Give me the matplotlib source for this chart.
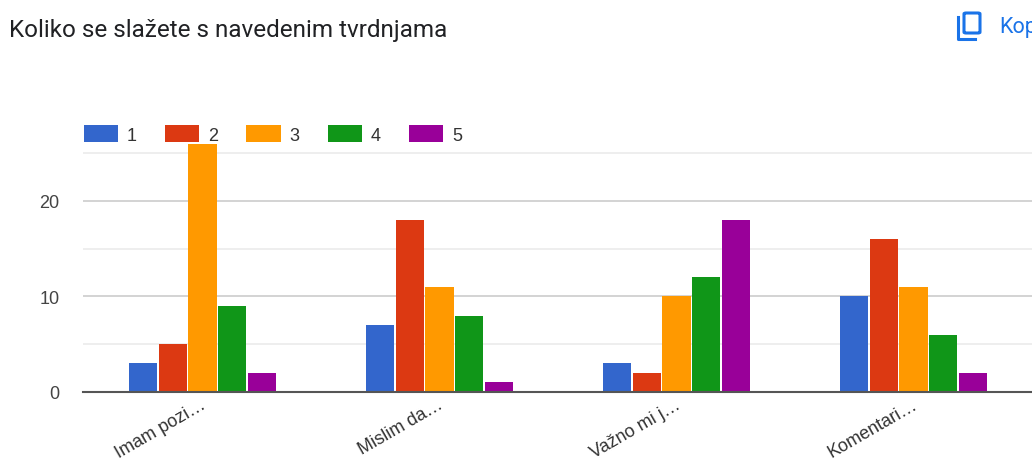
import matplotlib
matplotlib.use("Agg")
import matplotlib.pyplot as plt
from matplotlib.patches import FancyBboxPatch
from matplotlib.lines import Line2D
from matplotlib.transforms import ScaledTranslation
import numpy as np

W, H = 1032, 460

kategorije = ["Imam pozi…", "Mislim da…", "Važno mi j…", "Komentari…"]
serije = ["1", "2", "3", "4", "5"]
v1 = [3, 7, 3, 10]
v2 = [5, 18, 2, 16]
v3 = [26, 11, 10, 11]
v4 = [9, 8, 12, 6]
v5 = [2, 1, 18, 2]
vrijednosti = [v1, v2, v3, v4, v5]
boje = ["#3366cc", "#dc3912", "#ff9900", "#109618", "#990099"]
glavne = [0, 10, 20]
sporedne = [5, 15, 25]

fig = plt.figure(figsize=(W / 100, H / 100), dpi=100)
ax = fig.add_axes([83 / W, 1 - 393 / H, 949 / W, 257 / H])

korak = 0.125
sirina = 0.119
x = np.arange(len(kategorije))
for i, (naziv, vals, boja) in enumerate(zip(serije, vrijednosti, boje)):
    ax.bar(x + (i - 2) * korak, vals, sirina, color=boja, label=naziv, zorder=3)

ax.set_xlim(-0.504, 3.5)
ax.set_ylim(0, 26.9)
ax.set_yticks(glavne)
ax.set_yticks(sporedne, minor=True)
ax.grid(axis="y", which="major", color="#cccccc", lw=1.2, zorder=0)
ax.grid(axis="y", which="minor", color="#ebebeb", lw=1.2, zorder=0)
ax.tick_params(axis="y", which="both", length=0, labelsize=13, labelcolor="#444444", pad=17)
ax.tick_params(axis="x", length=0, pad=4)
for s in ["top", "right", "left"]:
    ax.spines[s].set_visible(False)
ax.spines["bottom"].set_color("#555555")
ax.spines["bottom"].set_linewidth(1.5)
ax.spines["bottom"].set_zorder(4)
ax.set_xticks(x)
ax.set_xticklabels(kategorije, rotation=30, ha="right", rotation_mode="anchor",
                   fontsize=13, color="#333333")
for lab in ax.get_yticklabels() + ax.get_xticklabels():
    lab.set_family("Liberation Sans")
# natpise malo gore i lijevo da stanu u sliku
pomak = ScaledTranslation(-2 / 100, 2 / 100, fig.dpi_scale_trans)
for lab in ax.get_xticklabels():
    lab.set_transform(lab.get_transform() + pomak)

fig.legend(loc="upper left", bbox_to_anchor=(81 / W, 1 - 123 / H), borderaxespad=0,
           borderpad=0.15, ncol=5, frameon=False, handlelength=1.9, handleheight=1.1,
           handletextpad=0.5, columnspacing=1.55,
           prop={"family": "Liberation Sans", "size": 13}, labelcolor="#333333")

fig.text(9 / W, 1 - 30 / H, "Koliko se slažete s navedenim tvrdnjama", family="Roboto",
         fontsize=17.5, color="#202124", va="center")
fig.text(999 / W, 1 - 27 / H, "Kop", family="Roboto", fontsize=15.5, color="#1a73e8",
         va="center")

# ikona za kopiranje
plava = "#1a73e8"
fig.add_artist(FancyBboxPatch((964 / W, 1 - 34 / H), 16 / W, 20 / H, boxstyle="round,pad=0,rounding_size=0.002",
                              transform=fig.transFigure, fc="none", ec=plava, lw=2.2))
fig.add_artist(Line2D([958 / W, 958 / W, 975 / W], [1 - 18 / H, 1 - 40 / H, 1 - 40 / H],
                      transform=fig.transFigure, color=plava, lw=2.2))

fig.savefig("out.png", dpi=100)
